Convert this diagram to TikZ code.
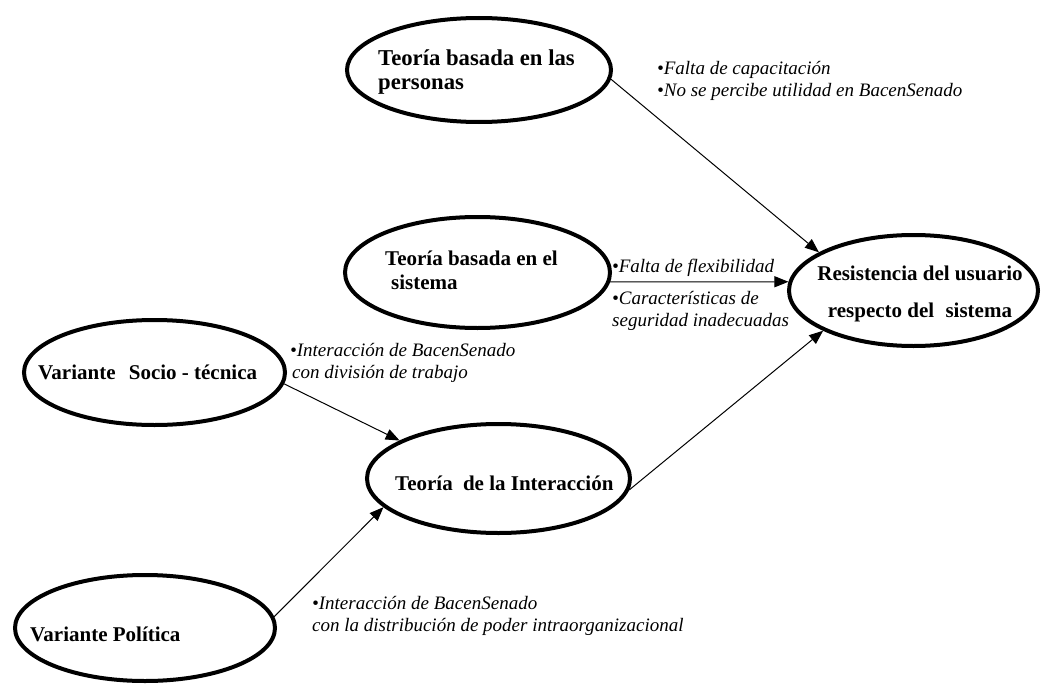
\documentclass[tikz,border=0pt]{standalone}
\usepackage{fontspec}
\setmainfont{Liberation Serif}
\usetikzlibrary{shapes.geometric,arrows.meta}
\begin{document}
\begin{tikzpicture}[x=1pt,y=-1pt,
  oval/.style={ellipse,draw,line width=4pt,inner sep=0pt},
  ttl/.style={font=\fontsize{21}{24}\selectfont\bfseries,align=left,anchor=west,inner sep=0pt},
  lbl/.style={font=\fontsize{19}{22}\selectfont\itshape,align=left,anchor=west,inner sep=0pt},
  arr/.style={line width=1pt,-{Triangle[length=14pt,width=11pt]}}]
\useasboundingbox (0,0) rectangle (1042,685);
% ellipses
\node[oval,minimum width=264pt,minimum height=104pt] (pers) at (479,70) {};
\node[oval,minimum width=265pt,minimum height=111pt] (sist) at (477.5,272.5) {};
\node[oval,minimum width=249pt,minimum height=111pt] (resis) at (913.5,290.5) {};
\node[oval,minimum width=261pt,minimum height=105pt] (socio) at (154.5,372.5) {};
\node[oval,minimum width=263pt,minimum height=109pt] (inter) at (498.5,478.5) {};
\node[oval,minimum width=260pt,minimum height=106pt] (polit) at (145,628) {};
% titles
\node[ttl,font=\fontsize{22.7}{24}\selectfont\bfseries] (persT) at (378,72) {Teoría basada en las\\personas};
\node[ttl] (sistT) at (385,270) {Teoría basada en el\\\hspace{6pt}sistema};
\node[ttl,anchor=center,align=center,font=\fontsize{21}{37}\selectfont\bfseries] (resisT) at (920,294) {Resistencia del usuario\\respecto del\hspace{6pt} sistema};
\node[ttl] (socioT) at (38,372) {Variante\hspace{8pt} Socio - técnica};
\node[ttl] (interT) at (395,483) {Teoría\hspace{5pt} de la Interacción};
\node[ttl] (politT) at (30,634) {Variante Política};
% connectors
\draw[arr] (pers.-4) -- (resis.158);
\draw[arr] (sist.-4) -- (resis.176);
\draw[arr] (inter.-5) -- (resis.204);
\draw[arr] (socio.-5.5) -- (inter.159.6);
\draw[arr] (polit.5.7) -- (inter.194.3);
% labels
\node[lbl] (l1) at (657,81) {•Falta de capacitación\\•No se percibe utilidad en BacenSenado};
\node[lbl] (l2) at (612,268) {•Falta de flexibilidad};
\node[lbl] (l3) at (612,311) {•Características de\\seguridad inadecuadas};
\node[lbl] (l4) at (290,362.5) {•Interacción de BacenSenado\\\hspace{2pt}con división de trabajo};
\node[lbl] (l5) at (312,616) {•Interacción de BacenSenado\\con la distribución de poder intraorganizacional};
\end{tikzpicture}
\end{document}
